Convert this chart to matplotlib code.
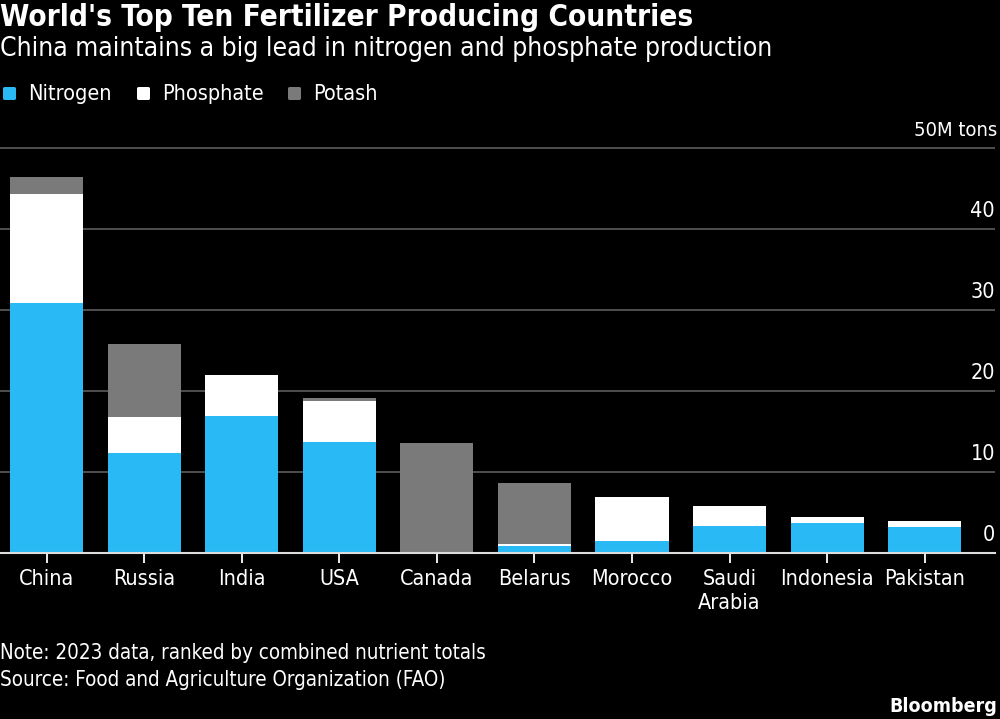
import matplotlib
matplotlib.use("Agg")
import matplotlib.pyplot as plt
from matplotlib import font_manager
from matplotlib.font_manager import FontProperties
import matplotlib.patches as mpatches

countries = ["China", "Russia", "India", "USA", "Canada", "Belarus", "Morocco",
             "Saudi\nArabia", "Indonesia", "Pakistan"]
nitrogen = [30.9, 12.4, 17.0, 13.8, 0.0, 0.9, 1.5, 3.4, 3.8, 3.3]
phosphate = [13.5, 4.4, 5.0, 5.05, 0.0, 0.25, 5.5, 2.4, 0.7, 0.65]
potash = [2.0, 9.1, 0.0, 0.35, 13.6, 7.55, 0.0, 0.0, 0.0, 0.0]
yticks = [0, 10, 20, 30, 40]


def find_font(bold):
    cands = []
    for f in font_manager.fontManager.ttflist:
        fn = f.fname.lower()
        cond = ("condensed" in fn or "narrow" in fn or str(f.stretch) in
                ("condensed", "semi-condensed", "extra-condensed"))
        if not cond or "oblique" in fn or "italic" in fn or "mono" in fn or "serif" in fn.replace("sans", ""):
            continue
        isbold = "bold" in fn or (isinstance(f.weight, int) and f.weight >= 600) or f.weight == "bold"
        if isbold == bold:
            cands.append(f.fname)
    cands.sort(key=lambda p: (0 if "dejavu" in p.lower() else 1, len(p)))
    return cands[0] if cands else None


reg_path = find_font(False)
bold_path = find_font(True)


def fp(size, bold=False):
    path = bold_path if bold else reg_path
    if path:
        return FontProperties(fname=path, size=size)
    return FontProperties(family="DejaVu Sans", size=size * 0.9,
                          weight="bold" if bold else "normal")


BLUE = "#29B9F5"
WHITE = "#FFFFFF"
GRAY = "#7A7A7A"
GRID = "#555555"

fig = plt.figure(figsize=(10, 7.19), dpi=100, facecolor="black")
ppu = 8.1
ytop = 52
ax = fig.add_axes([0.0, (719 - 553.3) / 719, 0.995, ytop * ppu / 719])
ax.set_facecolor("black")

x = list(range(len(countries)))
w = 0.75
b1 = nitrogen
b2 = [n + p for n, p in zip(nitrogen, phosphate)]
ax.bar(x, nitrogen, width=w, color=BLUE, zorder=3)
ax.bar(x, phosphate, width=w, bottom=b1, color=WHITE, zorder=3)
ax.bar(x, potash, width=w, bottom=b2, color=GRAY, zorder=3)

ax.set_xlim(-0.477, 9.72)
ax.set_ylim(0, ytop)
for s in ["top", "right", "left"]:
    ax.spines[s].set_visible(False)
ax.spines["bottom"].set_color("#dddddd")
ax.spines["bottom"].set_linewidth(1.5)
ax.spines["bottom"].set_zorder(4)

for v in yticks[1:] + [50]:
    ax.axhline(v, color=GRID, lw=1.3, zorder=1)
ax.set_yticks([])

for v in yticks:
    ax.text(1.0, v + 1.0, str(v), transform=ax.get_yaxis_transform(),
            ha="right", va="bottom", color="white", fontproperties=fp(15.5))
ax.text(1.002, 50 + 1.0, "50M tons", transform=ax.get_yaxis_transform(),
        ha="right", va="bottom", color="white", fontproperties=fp(14.5))

ax.set_xticks(x)
ax.set_xticklabels(countries, color="white", fontproperties=fp(15.5), linespacing=1.3)
ax.tick_params(axis="x", colors="white", length=7, width=1.3, pad=4, labelcolor="white")

fig.text(0.0, 1 - 17 / 719, "World's Top Ten Fertilizer Producing Countries",
         color="white", fontproperties=fp(21.3, True), va="center", ha="left")
fig.text(0.0, 1 - 49 / 719, "China maintains a big lead in nitrogen and phosphate production",
         color="white", fontproperties=fp(19), va="center", ha="left")

legend_items = [("Nitrogen", BLUE, 3, 28), ("Phosphate", WHITE, 137, 162), ("Potash", GRAY, 288, 313)]
for label, col, sx, tx in legend_items:
    fig.patches.append(mpatches.FancyBboxPatch((sx / 1000, 1 - 100 / 719), 13 / 1000, 13 / 719,
                                               boxstyle="round,pad=0,rounding_size=0.002",
                                               transform=fig.transFigure, facecolor=col,
                                               edgecolor="none"))
    fig.text(tx / 1000, 1 - 94 / 719, label, color="white", fontproperties=fp(15.5),
             va="center", ha="left")

fig.text(0.0, 1 - 653 / 719, "Note: 2023 data, ranked by combined nutrient totals",
         color="white", fontproperties=fp(14.8), va="center", ha="left")
fig.text(0.0, 1 - 680 / 719, "Source: Food and Agriculture Organization (FAO)",
         color="white", fontproperties=fp(14.8), va="center", ha="left")
fig.text(0.997, 1 - 706 / 719, "Bloomberg", color="white", fontproperties=fp(14, True),
         va="center", ha="right")

fig.savefig("out.png", dpi=100, facecolor="black")
